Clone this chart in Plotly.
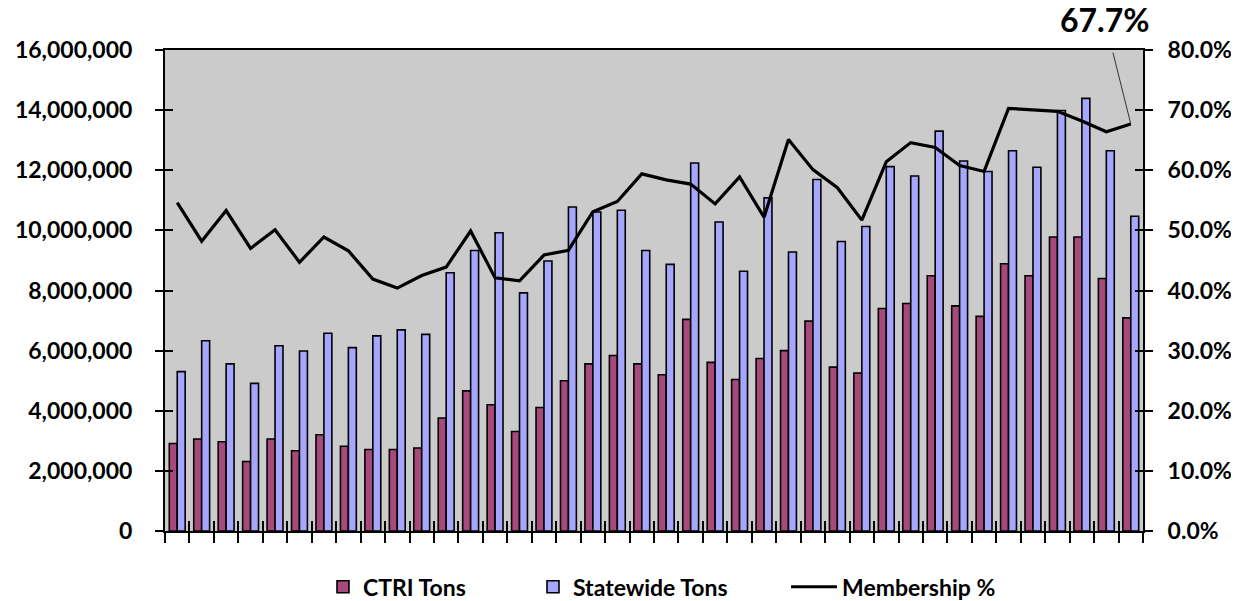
import plotly.graph_objects as go

periods = ["P01", "P02", "P03", "P04", "P05", "P06", "P07", "P08", "P09", "P10",
           "P11", "P12", "P13", "P14", "P15", "P16", "P17", "P18", "P19", "P20",
           "P21", "P22", "P23", "P24", "P25", "P26", "P27", "P28", "P29", "P30",
           "P31", "P32", "P33", "P34", "P35", "P36", "P37", "P38", "P39", "P40"]

ctri_tons = [2910000, 3060000, 2970000, 2310000, 3060000, 2670000, 3200000, 2820000, 2710000, 2710000,
             2760000, 3760000, 4660000, 4200000, 3310000, 4110000, 5000000, 5560000, 5840000, 5560000,
             5200000, 7040000, 5610000, 5040000, 5740000, 6000000, 6980000, 5450000, 5250000, 7400000,
             7570000, 8490000, 7490000, 7140000, 8890000, 8490000, 9780000, 9780000, 8400000, 7090000]

statewide_tons = [5300000, 6330000, 5560000, 4910000, 6160000, 5990000, 6580000, 6100000, 6490000, 6690000,
                  6540000, 8590000, 9330000, 9920000, 7920000, 8980000, 10780000, 10610000, 10670000, 9330000,
                  8870000, 12240000, 10280000, 8640000, 11080000, 9280000, 11690000, 9630000, 10130000, 12120000,
                  11810000, 13300000, 12310000, 11960000, 12650000, 12100000, 13990000, 14390000, 12650000, 10470000]

membership_pct = [54.6, 48.2, 53.3, 47.0, 50.1, 44.7, 48.9, 46.6, 41.9, 40.4,
                  42.5, 43.9, 49.9, 42.1, 41.6, 45.9, 46.7, 53.1, 54.8, 59.4,
                  58.4, 57.7, 54.4, 58.9, 52.2, 65.1, 60.1, 57.1, 51.7, 61.4,
                  64.6, 63.8, 60.8, 59.8, 70.3, 70.1, 69.8, 68.2, 66.4, 67.7]

left_ticks = [0, 2000000, 4000000, 6000000, 8000000, 10000000, 12000000, 14000000, 16000000]
left_labels = ["0", "2,000,000", "4,000,000", "6,000,000", "8,000,000", "10,000,000",
               "12,000,000", "14,000,000", "16,000,000"]
right_ticks = [0, 10, 20, 30, 40, 50, 60, 70, 80]
right_labels = ["0.0%", "10.0%", "20.0%", "30.0%", "40.0%", "50.0%", "60.0%", "70.0%", "80.0%"]

FONT = "Lato"
AX = "#000000"

fig = go.Figure()
fig.add_trace(go.Bar(
    x=periods, y=ctri_tons, name="CTRI Tons", legend="legend",
    marker=dict(color="#A8497B", line=dict(color="black", width=1.6)),
))
fig.add_trace(go.Bar(
    x=periods, y=statewide_tons, name="Statewide Tons", legend="legend2",
    marker=dict(color="#A6A6FF", line=dict(color="black", width=1.6)),
))
fig.add_trace(go.Scatter(
    x=periods, y=membership_pct, name="Membership %", yaxis="y2", legend="legend3",
    mode="lines", line=dict(color="black", width=3.2),
))
# empty helper traces so the tick-only overlay axes get drawn
fig.add_trace(go.Scatter(x=[], y=[], xaxis="x2", yaxis="y3", showlegend=False, hoverinfo="skip"))
fig.add_trace(go.Scatter(x=[], y=[], xaxis="x2", yaxis="y4", showlegend=False, hoverinfo="skip"))

fig.add_annotation(
    x=periods[-1], y=membership_pct[-1], yref="y2", xref="x",
    text="%.1f%%" % membership_pct[-1],
    showarrow=True, arrowhead=0, arrowwidth=1, arrowcolor="#333333",
    ax=-26, ay=-104, startstandoff=12,
    font=dict(family=FONT, size=32, color="black", weight="bold"),
)

legend_font = dict(family=FONT, size=23, color="black", weight="bold")
LEG_Y = -0.116

fig.update_layout(
    width=1239, height=601,
    margin=dict(l=157, r=104, t=42, b=78, autoexpand=False),
    paper_bgcolor="white",
    plot_bgcolor="#CBCBCB",
    barmode="group",
    bargap=0.35,
    bargroupgap=0,
    font=dict(family=FONT, size=23, color="black", weight="bold"),
    showlegend=True,
    legend=dict(x=(323 - 165) / 978, xanchor="left", y=LEG_Y, yanchor="middle",
                font=legend_font, itemwidth=30, bgcolor="rgba(0,0,0,0)"),
    legend2=dict(x=(533 - 165) / 978, xanchor="left", y=LEG_Y, yanchor="middle",
                 font=legend_font, itemwidth=30, bgcolor="rgba(0,0,0,0)"),
    legend3=dict(x=(786 - 165) / 978, xanchor="left", y=LEG_Y, yanchor="middle",
                 font=legend_font, itemwidth=46, bgcolor="rgba(0,0,0,0)"),
    xaxis=dict(
        type="category", range=[-0.5, 39.5],
        showticklabels=False, tickson="boundaries",
        ticks="outside", ticklen=10, tickwidth=2, tickcolor=AX,
        showline=True, linecolor=AX, linewidth=2, mirror=True,
        showgrid=False, zeroline=False,
    ),
    xaxis2=dict(
        overlaying="x", anchor="y", side="bottom", range=[0, 40], dtick=1,
        ticks="inside", ticklen=10, tickwidth=2, tickcolor=AX,
        showticklabels=False, showgrid=False, zeroline=False, showline=False,
    ),
    yaxis=dict(
        range=[0, 16000000], tickmode="array", tickvals=left_ticks, ticktext=left_labels,
        ticks="outside", ticklen=8, tickwidth=2, tickcolor=AX,
        showline=True, linecolor=AX, linewidth=2,
        showgrid=False, zeroline=False, ticklabelstandoff=18,
    ),
    yaxis2=dict(
        overlaying="y", side="right", range=[0, 80],
        tickmode="array", tickvals=right_ticks, ticktext=right_labels,
        ticks="outside", ticklen=8, tickwidth=2, tickcolor=AX,
        showline=True, linecolor=AX, linewidth=2,
        showgrid=False, zeroline=False, ticklabelstandoff=10,
    ),
    yaxis3=dict(
        overlaying="y", anchor="x2", side="left", range=[0, 16000000],
        tickmode="array", tickvals=left_ticks,
        ticks="inside", ticklen=8, tickwidth=2, tickcolor=AX,
        showticklabels=False, showgrid=False, zeroline=False, showline=False,
    ),
    yaxis4=dict(
        overlaying="y", anchor="x2", side="right", range=[0, 80],
        tickmode="array", tickvals=right_ticks,
        ticks="inside", ticklen=8, tickwidth=2, tickcolor=AX,
        showticklabels=False, showgrid=False, zeroline=False, showline=False,
    ),
)

fig.write_html("out.html")
